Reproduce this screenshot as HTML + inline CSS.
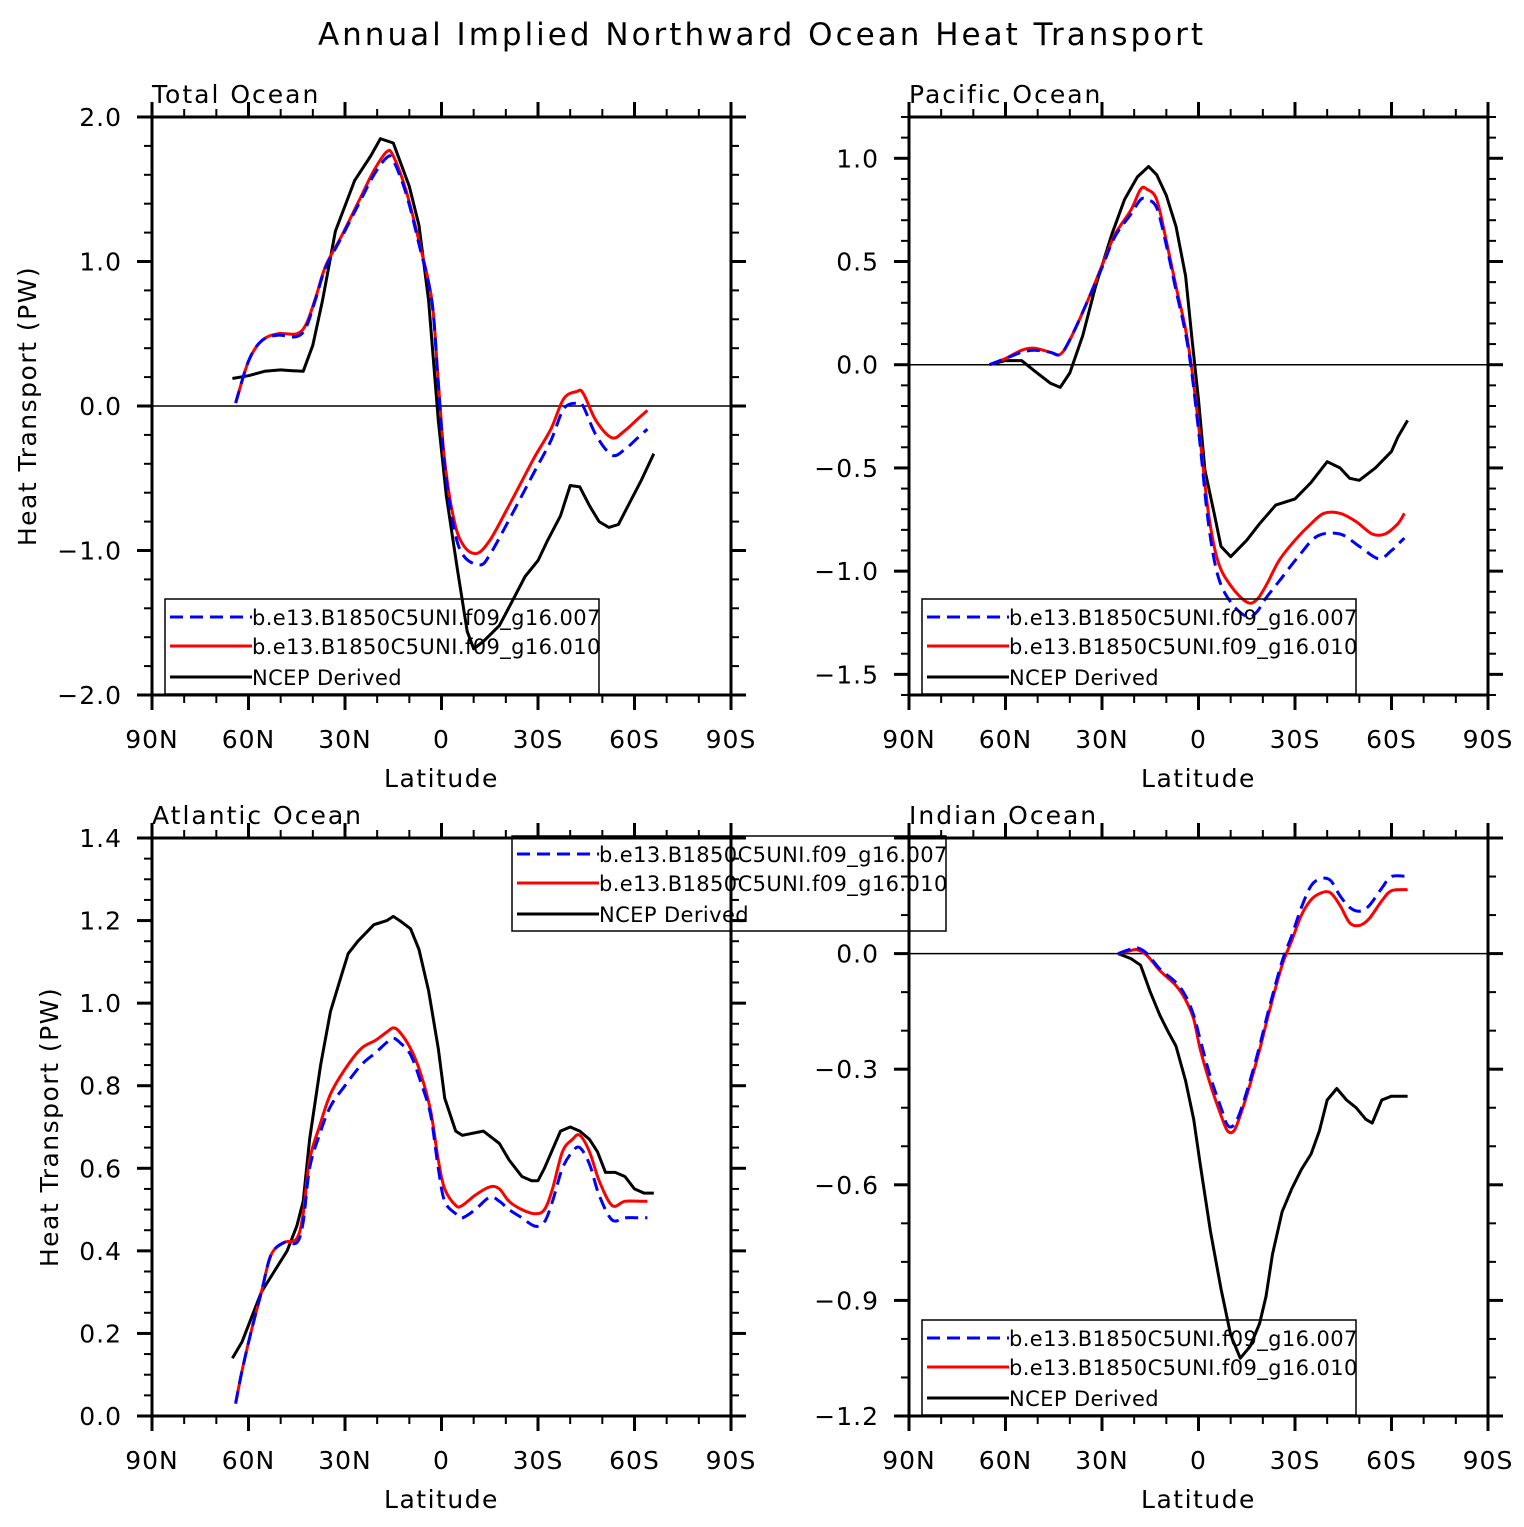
<!DOCTYPE html>
<html><head><meta charset="utf-8"><style>
body{margin:0;background:#fff}
svg{display:block;font-family:"DejaVu Sans","Liberation Sans",sans-serif}
</style></head><body>
<svg id="chart" width="1524" height="1527" viewBox="0 0 1524 1527" xmlns="http://www.w3.org/2000/svg">
<text x="762" y="45" text-anchor="middle" font-size="31" letter-spacing="3" fill="#000">Annual Implied Northward Ocean Heat Transport</text>
</svg>
<script>
// ---- data (latitude in degrees, positive = north; values in PW) ----
const totalBlackLat=[65,60,55,50,47,43,40,37,33,27,22,19,15,10,7,4,1,-1.5,-5,-8,-10,-13,-18,-22,-26,-30,-33,-37,-40,-43,-46,-49,-52,-55,-58,-62,-66];
const totalBlackVal=[0.19,0.21,0.24,0.25,0.245,0.24,0.42,0.73,1.21,1.56,1.73,1.85,1.82,1.52,1.25,0.73,-0.1,-0.62,-1.14,-1.56,-1.68,-1.63,-1.52,-1.35,-1.18,-1.07,-0.93,-0.76,-0.55,-0.56,-0.69,-0.8,-0.84,-0.82,-0.69,-0.52,-0.33];
const totalRedLat=[64,60,56,51,45,42,39,36,31,25,21,17,15,11,7,3,1,-1,-4,-7,-11,-15,-20,-25,-29,-34,-38,-42,-44,-48,-53,-57,-61,-64];
const totalRedVal=[0.02,0.31,0.45,0.5,0.5,0.57,0.76,0.97,1.18,1.45,1.63,1.76,1.73,1.49,1.14,0.73,0.17,-0.38,-0.8,-0.97,-1.02,-0.93,-0.73,-0.52,-0.35,-0.16,0.05,0.1,0.09,-0.1,-0.22,-0.17,-0.09,-0.03];
const totalBlueLat=[64,60,56,51,45,42,39,36,31,25,21,17,15,11,7,3,1,-1,-4,-7,-12,-15,-20,-25,-29,-34,-38,-42,-44,-48,-53,-57,-61,-64];
const totalBlueVal=[0.02,0.31,0.45,0.49,0.48,0.55,0.75,0.96,1.17,1.43,1.6,1.72,1.7,1.47,1.12,0.72,0.15,-0.42,-0.86,-1.04,-1.1,-1.03,-0.83,-0.62,-0.45,-0.24,-0.02,0.02,0.0,-0.2,-0.34,-0.3,-0.22,-0.16];

const pacBlackLat=[65,60,55,51,46,43,40,36,32,27,23,19,15.5,13,10,7,4,2,0,-2,-5,-7,-10,-15,-19,-24,-30,-35,-40,-44,-47,-50,-55,-60,-62,-65];
const pacBlackVal=[0,0.02,0.02,-0.03,-0.09,-0.11,-0.04,0.14,0.38,0.63,0.8,0.91,0.96,0.92,0.82,0.67,0.43,0.12,-0.17,-0.51,-0.73,-0.88,-0.93,-0.85,-0.77,-0.68,-0.65,-0.57,-0.47,-0.5,-0.55,-0.56,-0.5,-0.42,-0.35,-0.27];
const pacRedLat=[65,60,55,51,46,43,40,35,30,26,21,18,16,13,10,7,4,2,-0.6,-3,-6,-10,-15,-18,-21,-25,-30,-35,-39,-44,-49,-54,-58,-62,-64];
const pacRedVal=[0,0.03,0.07,0.08,0.06,0.05,0.12,0.29,0.48,0.63,0.75,0.85,0.85,0.8,0.6,0.38,0.17,-0.03,-0.37,-0.71,-0.95,-1.07,-1.15,-1.14,-1.07,-0.95,-0.85,-0.77,-0.72,-0.72,-0.76,-0.82,-0.82,-0.77,-0.72];
const pacBlueLat=[65,60,55,51,46,43,40,35,30,26,21,18,16,13,10,7,4,2,-0.6,-3,-6,-10,-15,-18,-21,-25,-31,-37,-44,-50,-56,-60,-62,-64];
const pacBlueVal=[0,0.03,0.06,0.07,0.06,0.05,0.12,0.29,0.47,0.62,0.73,0.8,0.8,0.76,0.58,0.36,0.15,-0.05,-0.4,-0.76,-1.02,-1.15,-1.22,-1.2,-1.13,-1.05,-0.93,-0.83,-0.82,-0.88,-0.94,-0.9,-0.87,-0.84];

const atlBlackLat=[65,62,59,56,52,48,45,43,41,37.6,34.5,31,29,26,21,17,15,13,9.6,7,4,1,-1,-4.4,-6.5,-13,-18,-21,-25,-28,-30,-32,-37,-40,-43,-46,-48.5,-51,-54,-57,-60,-63,-66];
const atlBlackVal=[0.14,0.18,0.24,0.3,0.35,0.4,0.46,0.52,0.67,0.85,0.98,1.07,1.12,1.15,1.19,1.2,1.21,1.2,1.18,1.13,1.03,0.89,0.77,0.69,0.68,0.69,0.66,0.62,0.58,0.57,0.57,0.6,0.69,0.7,0.69,0.67,0.64,0.59,0.59,0.58,0.55,0.54,0.54];
const atlRedLat=[64,62,59,56,53,49,45,43,41,38,34.5,30,25,20.5,17,15,13,9.6,6.5,3.4,1,-1,-4.4,-6.5,-10.5,-15,-18,-21,-25,-29,-32,-34.5,-37.6,-40.7,-43,-46,-49,-53,-57,-62,-64];
const atlRedVal=[0.03,0.11,0.21,0.3,0.39,0.42,0.43,0.49,0.62,0.7,0.78,0.84,0.89,0.91,0.93,0.94,0.93,0.89,0.83,0.74,0.62,0.55,0.51,0.51,0.535,0.555,0.55,0.52,0.5,0.49,0.5,0.55,0.64,0.67,0.68,0.64,0.57,0.51,0.52,0.52,0.52];
const atlBlueLat=[64,62,59,56,53,49,45,43,41,38,34.5,30,25,20.5,17,15,13,9.6,6.5,3.4,1,-1,-4.4,-6.5,-10.5,-15,-18,-21,-25,-29,-32,-34.5,-37.6,-40.7,-43,-46,-49,-53,-57,-62,-64];
const atlBlueVal=[0.03,0.11,0.21,0.3,0.39,0.42,0.42,0.47,0.6,0.68,0.75,0.8,0.85,0.88,0.905,0.915,0.905,0.875,0.81,0.73,0.6,0.52,0.49,0.48,0.5,0.53,0.52,0.5,0.48,0.46,0.47,0.52,0.6,0.64,0.65,0.61,0.535,0.475,0.48,0.48,0.48];

const indBlackLat=[25,21,18,15,12,9.6,7,4,1.5,-0.6,-3.7,-7,-10,-13,-16,-19,-21,-23,-26,-29,-32,-35,-37.6,-40,-43,-46,-49,-52,-54,-57,-60,-65];
const indBlackVal=[0,-0.013,-0.03,-0.1,-0.16,-0.2,-0.24,-0.33,-0.43,-0.55,-0.72,-0.87,-0.99,-1.05,-1.02,-0.96,-0.89,-0.78,-0.67,-0.61,-0.56,-0.52,-0.46,-0.38,-0.35,-0.38,-0.4,-0.43,-0.44,-0.38,-0.37,-0.37];
const indRedLat=[25,21,19,16,12,7,4,1.5,-0.6,-3.7,-7,-9,-11,-13,-16,-19,-22,-26,-29,-32,-35,-38,-41,-44,-47,-50,-53,-57,-60,-65];
const indRedVal=[0,0.008,0.01,-0.005,-0.044,-0.083,-0.12,-0.17,-0.25,-0.34,-0.42,-0.46,-0.46,-0.42,-0.34,-0.25,-0.15,-0.03,0.034,0.1,0.14,0.157,0.158,0.125,0.08,0.073,0.09,0.137,0.163,0.166];
const indBlueLat=[25,21,19,16,12,7,4,1.5,-0.6,-3.7,-7,-9,-11,-13,-16,-19,-22,-26,-29,-32,-35,-38,-41,-44,-47,-50,-53,-57,-60,-65];
const indBlueVal=[0,0.012,0.015,0.0,-0.04,-0.075,-0.11,-0.16,-0.225,-0.32,-0.4,-0.445,-0.445,-0.41,-0.33,-0.24,-0.14,-0.02,0.047,0.12,0.176,0.194,0.19,0.15,0.12,0.11,0.124,0.17,0.2,0.2];

const xTickLabels=["90N","60N","30N","0","30S","60S","90S"];
const legendLabels=["b.e13.B1850C5UNI.f09_g16.007","b.e13.B1850C5UNI.f09_g16.010","NCEP Derived"];

const NS="http://www.w3.org/2000/svg";
const svg=document.getElementById('chart');
function mk(tag,attrs,parent){const e=document.createElementNS(NS,tag);for(const k in attrs)e.setAttribute(k,attrs[k]);(parent||svg).appendChild(e);return e;}

function smoothPath(pts){
  let d="M"+pts[0][0].toFixed(1)+","+pts[0][1].toFixed(1);
  for(let i=0;i<pts.length-1;i++){
    const p0=pts[Math.max(0,i-1)],p1=pts[i],p2=pts[i+1],p3=pts[Math.min(pts.length-1,i+2)];
    const c1=[p1[0]+(p2[0]-p0[0])/6,p1[1]+(p2[1]-p0[1])/6];
    const c2=[p2[0]-(p3[0]-p1[0])/6,p2[1]-(p3[1]-p1[1])/6];
    d+=" C"+c1[0].toFixed(1)+","+c1[1].toFixed(1)+" "+c2[0].toFixed(1)+","+c2[1].toFixed(1)+" "+p2[0].toFixed(1)+","+p2[1].toFixed(1);
  }
  return d;
}
function fmt(v,dec){const s=Math.abs(v).toFixed(dec);return (v<-1e-9?"\u2212":"")+s;}

function panel(o){
  const g=mk('g',{});
  
  
  const L=o.x0,R=o.x0+579,T=o.y0,B=o.y0+578;
  const xs=lat=>L+(90-lat)*579/180;
  const ys=v=>T+(o.ymax-v)*578/(o.ymax-o.ymin);
  const t=mk('text',{x:L,y:T-14,'font-size':25,'letter-spacing':2},g);
  
  
  t.textContent=o.title;
  if(o.ymin<0&&o.ymax>0){const z=mk('line',{x1:L,x2:R,y1:ys(0),y2:ys(0),stroke:'#000','stroke-width':1.5},g);
    
    }
  for(let lat=90;lat>=-90;lat-=10){
    const x=xs(lat),maj=(lat%30===0);
    const len=maj?15:8,w=maj?3:2;
    mk('line',{x1:x,x2:x,y1:B,y2:B+len,stroke:'#000','stroke-width':w},g);
    mk('line',{x1:x,x2:x,y1:T,y2:T-len,stroke:'#000','stroke-width':w},g);
  }
  xTickLabels.forEach((lb,i)=>{
    const tx=mk('text',{x:xs(90-30*i),y:B+53,'text-anchor':'middle','font-size':25,'letter-spacing':1},g);
    
    
    tx.textContent=lb;
  });
  const xt=mk('text',{x:(L+R)/2,y:B+92,'text-anchor':'middle','font-size':25,'letter-spacing':1.5},g);
  
  
  xt.textContent='Latitude';
  const nMin=Math.round((o.ymax-o.ymin)/o.minor);
  for(let i=0;i<=nMin;i++){
    const v=o.ymin+i*o.minor;
    const y=ys(v);
    const maj=Math.abs(v/o.major-Math.round(v/o.major))<1e-6;
    const len=maj?15:8,w=maj?3:2;
    mk('line',{x1:L-len,x2:L,y1:y,y2:y,stroke:'#000','stroke-width':w},g);
    mk('line',{x1:R,x2:R+len,y1:y,y2:y,stroke:'#000','stroke-width':w},g);
    if(maj && !(o.noTopLabel && i===nMin)){
      const ty=mk('text',{x:L-30,y:y+9,'text-anchor':'end','font-size':25,'letter-spacing':1},g);
      
      
      ty.textContent=fmt(v,1);
    }
  }
  if(o.ytitle){
    const yt=mk('text',{x:0,y:0,'text-anchor':'middle','font-size':25,'letter-spacing':1.5,transform:`translate(${o.ytx},${(T+B)/2}) rotate(-90)`},g);
    
    
    yt.textContent='Heat Transport (PW)';
  }
  const fr=mk('rect',{x:L,y:T,width:579,height:578,fill:'none',stroke:'#000','stroke-width':3},g);
  
  
  const ser=[
    {lat:o.black[0],val:o.black[1],c:'#000',dash:null,smooth:false,n:'ncep-derived-line'},
    {lat:o.red[0],val:o.red[1],c:'#f00',dash:null,smooth:true,n:'run-010-line'},
    {lat:o.blue[0],val:o.blue[1],c:'#00f',dash:'13 7',smooth:true,n:'run-007-line'}
  ];
  ser.forEach(s=>{
    const pts=s.lat.map((la,i)=>[xs(la),ys(s.val[i])]);
    const d=s.smooth?smoothPath(pts):"M"+pts.map(p=>p[0].toFixed(1)+","+p[1].toFixed(1)).join(" L");
    const p=mk('path',{d:d,fill:'none',stroke:s.c,'stroke-width':3,'stroke-linejoin':'round'},g);
    if(s.dash)p.setAttribute('stroke-dasharray',s.dash);
    
    
  });
  const lg=mk('g',{},g);
  
  
  mk('rect',{x:o.lx,y:o.ly,width:434,height:95,fill:'none',stroke:'#000','stroke-width':1.5},lg);
  const cols=['#00f','#f00','#000'],offs=[18,47,78];
  legendLabels.forEach((lb,i)=>{
    const y=o.ly+offs[i];
    const ln=mk('line',{x1:o.lx+5,x2:o.lx+87,y1:y,y2:y,stroke:cols[i],'stroke-width':3},lg);
    if(i===0)ln.setAttribute('stroke-dasharray','13 7');
    
    
    const tx=mk('text',{x:o.lx+87,y:y+8,'font-size':21,'letter-spacing':0.4},lg);
    
    
    tx.textContent=lb;
  });
}

panel({name:'total-ocean-panel',title:'Total Ocean',x0:152,y0:117,ymin:-2,ymax:2,major:1,minor:0.2,ytitle:true,ytx:36,
  black:[totalBlackLat,totalBlackVal],red:[totalRedLat,totalRedVal],blue:[totalBlueLat,totalBlueVal],lx:165,ly:599});
panel({name:'pacific-ocean-panel',title:'Pacific Ocean',x0:909,y0:117,ymin:-1.6,ymax:1.2,major:0.5,minor:0.1,ytitle:false,
  black:[pacBlackLat,pacBlackVal],red:[pacRedLat,pacRedVal],blue:[pacBlueLat,pacBlueVal],lx:922,ly:599});
panel({name:'atlantic-ocean-panel',title:'Atlantic Ocean',x0:152,y0:838,ymin:0,ymax:1.4,major:0.2,minor:0.05,ytitle:true,ytx:58,
  black:[atlBlackLat,atlBlackVal],red:[atlRedLat,atlRedVal],blue:[atlBlueLat,atlBlueVal],lx:512,ly:836});
panel({name:'indian-ocean-panel',title:'Indian Ocean',x0:909,y0:838,ymin:-1.2,ymax:0.3,major:0.3,minor:0.1,ytitle:false,noTopLabel:true,
  black:[indBlackLat,indBlackVal],red:[indRedLat,indRedVal],blue:[indBlueLat,indBlueVal],lx:922,ly:1320});
</script>
</body></html>
